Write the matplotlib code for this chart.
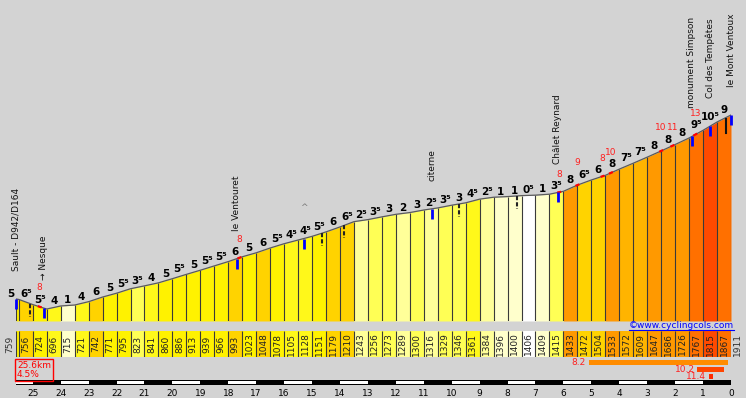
import numpy as np
import matplotlib
matplotlib.use("Agg")
import matplotlib.pyplot as plt
from matplotlib.lines import Line2D

plt.rcParams["font.family"] = "DejaVu Sans"

# distance to the summit (km) and elevation (m)
km = [25.6, 25.5, 25.0, 24.5, 24.0, 23.5, 23.0, 22.5, 22.0, 21.5, 21.0, 20.5, 20.0,
      19.5, 19.0, 18.5, 18.0, 17.5, 17.0, 16.5, 16.0, 15.5, 15.0, 14.5, 14.0, 13.5,
      13.0, 12.5, 12.0, 11.5, 11.0, 10.5, 10.0, 9.5, 9.0, 8.5, 8.0, 7.5, 7.0, 6.5,
      6.0, 5.5, 5.0, 4.5, 4.0, 3.5, 3.0, 2.5, 2.0, 1.5, 1.0, 0.5, 0.0]
elev = [759, 756, 724, 696, 715, 721, 742, 771, 795, 823, 841, 860, 886, 913, 939,
        966, 993, 1023, 1048, 1078, 1105, 1128, 1151, 1179, 1210, 1243, 1256, 1273,
        1289, 1300, 1316, 1329, 1346, 1361, 1384, 1396, 1400, 1406, 1409, 1415, 1433,
        1472, 1504, 1533, 1572, 1609, 1647, 1686, 1726, 1767, 1815, 1867, 1911]
# gradient printed above each segment
slope = [5, 6.5, 5.5, 4, 1, 4, 6, 5, 5.5, 3.5, 4, 5, 5.5, 5, 5.5, 5.5, 6, 5, 6, 5.5,
         4.5, 4.5, 5.5, 6, 6.5, 2.5, 3.5, 3, 2, 3, 2.5, 3.5, 3, 4.5, 2.5, 1, 1, 0.5, 1,
         3.5, 8, 6.5, 6, 8, 7.5, 7.5, 8, 8, 8, 9.5, 10.5, 9]

wp_name = ["Sault - D942/D164", "\u2192 Nesque", "le Ventouret", "^", "citerne",
           "Châlet Reynard", "monument Simpson", "Col des Tempêtes", "le Mont Ventoux"]
wp_km = [25.6, 24.6, 17.7, 15.3, 10.7, 6.2, 1.4, 0.75, 0.0]

dash_km = [25.1, 14.65, 13.85, 9.75, 7.65]
solid_km = [0.18]

# steepest 100 m spots
steep_val = [8, 8, 8, 9, 8, 10, 10, 11, 13]
steep_km = [24.75, 17.6, 6.15, 5.5, 4.6, 4.3, 2.5, 2.1, 1.28]

# steepest stretches (bottom right)
best_val = [8.2, 10.2, 11.4]
best_from = [5.1, 1.2, 0.8]
best_to = [0.1, 0.25, 0.64]

dist_ticks = [25, 24, 23, 22, 21, 20, 19, 18, 17, 16, 15, 14, 13, 12, 11, 10,
              9, 8, 7, 6, 5, 4, 3, 2, 1, 0]

BG = "#D3D3D3"
shade = {0: "#FFFFFF", 1: "#FFFFCC", 2: "#FFFF99", 3: "#FFFF55", 4: "#FFF81A",
         5: "#FFF200", 6: "#FFD300", 7: "#FFB400", 8: "#FF9900", 9: "#FF7000",
         10: "#FF4A00"}


def col(s):
    return shade[min(int(s), 10)]


def sup(s):
    return f"{int(s)}\u2075" if s % 1 else f"{int(s)}"


W, H = 746, 398
fig = plt.figure(figsize=(W / 100, H / 100), dpi=100, facecolor=BG)


def box(x0, y0, x1, y1):
    return [x0 / W, 1 - y1 / H, (x1 - x0) / W, (y1 - y0) / H]


X0, X1 = 16, 731
YB, YT = 621, 2631
px = (YT - YB) / 321  # metres per pixel

ax = fig.add_axes(box(X0, 0, X1, 321))
ax.set_xlim(km[0], km[-1])
ax.set_ylim(YB, YT)
ax.axis("off")

kr, er = km[::-1], elev[::-1]


def h(k):
    return np.interp(k, kr, er)


for i, s in enumerate(slope):
    ax.fill_between([km[i], km[i + 1]], [elev[i], elev[i + 1]], YB,
                    color=col(s), lw=0)
ax.vlines(km, YB, elev, color="#3A3A3A", lw=0.8)
ax.plot(km, elev, color="#5A5A5A", lw=0.9)

for i, s in enumerate(slope):
    top = max(elev[i], elev[i + 1]) + 2 * px
    if km[i] - km[i + 1] < 0.3:
        ax.text(km[i] + 0.05, top, sup(s), ha="right", va="baseline",
                fontsize=7.5, fontweight="bold", clip_on=False)
    else:
        ax.text((km[i] + km[i + 1]) / 2, top, sup(s), ha="center", va="baseline",
                fontsize=7.5, fontweight="bold")

for v, k in zip(steep_val, steep_km):
    seg = np.linspace(k - 0.07, k + 0.07, 5)
    ax.plot(seg, h(seg), color="red", lw=1.6, solid_capstyle="butt")
    j = next(i for i in range(len(slope)) if km[i] >= k > km[i + 1])
    ax.text(k, max(elev[j], elev[j + 1]) + 17 * px, str(v), color="#FF2020",
            fontsize=6.5, ha="center", va="center")

for k in dash_km:
    ax.plot([k, k], [h(k), h(k) - 13 * px], color="#222222", lw=1.5, dashes=(2, 1))
for k in solid_km:
    ax.plot([k, k], [h(k) - 1 * px, h(k) - 15 * px], color="#111111", lw=1.5)

for name, k in zip(wp_name, wp_km):
    ax.vlines(k, h(k) - 10 * px, h(k), color="#0000FF", lw=2, clip_on=False)
    if name == "^":
        ax.text(k, h(k) + 27 * px, name, color="#777777", fontsize=6.5,
                ha="center", va="bottom")
    else:
        ax.text(k, h(k) + 28 * px, name, rotation=90, ha="center", va="bottom",
                fontsize=6.5, color="#111111", clip_on=False)

# elevation strip
ax_e = fig.add_axes(box(X0, 331, X1, 357))
ax_e.set_xlim(km[0], km[-1])
ax_e.set_ylim(0, 1)
ax_e.axis("off")
for i, s in enumerate(slope):
    ax_e.bar(km[i + 1], 1, width=km[i] - km[i + 1], align="edge", color=col(s), lw=0)
ax_e.vlines(km, 0, 1, color="#3A3A3A", lw=0.8)
for i in range(1, len(km) - 1):
    ax_e.text((km[i] + km[i + 1]) / 2, 0.5, str(elev[i]), rotation=90,
              ha="center", va="center", fontsize=6.5, color="#222222")
ax_e.text(km[0] + 0.22, 0.5, str(elev[0]), rotation=90, ha="center", va="center",
          fontsize=6.5, color="#333333", clip_on=False)
ax_e.text(km[-1] - 0.22, 0.5, str(elev[-1]), rotation=90, ha="center", va="center",
          fontsize=6.5, color="#333333", clip_on=False)

# steepest stretches
ax_g = fig.add_axes(box(X0, 359, X1, 380))
ax_g.set_xlim(km[0], km[-1])
ax_g.set_ylim(2.5, -0.5)
ax_g.axis("off")
best_col = ["#FF8C00", "#FF4500", "#FF2A00"]
for r, (v, a, b) in enumerate(zip(best_val, best_from, best_to)):
    ax_g.barh(r, a - b, left=b, height=0.85, color=best_col[r])
    ax_g.text(a + 0.1, r, f"{v:.1f}", ha="right", va="center", color="#FF2020",
              fontsize=6.5)

# distance bar
ax_d = fig.add_axes(box(X0, 380, X1, 385))
ax_d.set_xlim(km[0], km[-1])
ax_d.set_ylim(0, 1)
ax_d.set_facecolor("black")
edges = [km[0]] + dist_ticks
for hi, lo in zip(edges[:-1], edges[1:]):
    if lo % 2 == 1:
        ax_d.bar(lo, 0.6, width=hi - lo, bottom=0.2, align="edge", color="white", lw=0)
ax_d.set_xticks(dist_ticks)
ax_d.set_xticklabels([str(t) for t in dist_ticks])
ax_d.set_yticks([])
ax_d.tick_params(length=0, pad=3, labelsize=6.5)
for sp in ax_d.spines.values():
    sp.set_visible(False)

total = km[0] - km[-1]
avg = (elev[-1] - elev[0]) / total / 10
fig.text(17 / W, 1 - 361 / H, f"{total:.1f}km\n{avg:.1f}%", ha="left", va="top",
         color="red", fontsize=6.5, linespacing=1.0,
         bbox=dict(boxstyle="square,pad=0.2", fc="none", ec="red", lw=1))

t = fig.text(734 / W, 1 - 326 / H, "\u00a9www.cyclingcols.com", ha="right",
             va="center", color="#0000FF", fontsize=6.5)
fig.canvas.draw()
bb = t.get_window_extent().transformed(fig.transFigure.inverted())
fig.add_artist(Line2D([bb.x0, bb.x1], [bb.y0 + 0.4 / H, bb.y0 + 0.4 / H],
                      transform=fig.transFigure, color="#0000FF", lw=0.8))

fig.savefig("out.png", dpi=100, facecolor=BG)
